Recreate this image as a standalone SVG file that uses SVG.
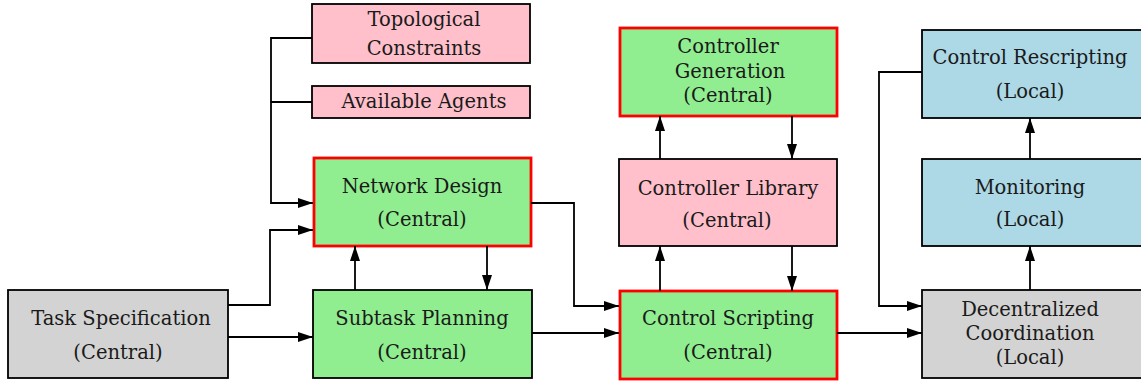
<svg xmlns="http://www.w3.org/2000/svg" width="1141" height="381" viewBox="0 0 1141 381">
<style>
.t{font-family:"DejaVu Serif",serif;font-size:19.5px;fill:#1a1a1a;text-anchor:middle}
.b{stroke:#000;stroke-width:1.8}
.r{stroke:#ff0000;stroke-width:2.8}
.gray{fill:#d3d3d3}.green{fill:#90ee90}.pink{fill:#ffc0cb}.blue{fill:#add8e6}
.c{fill:none;stroke:#000;stroke-width:1.8;marker-end:url(#ah)}
.l{fill:none;stroke:#000;stroke-width:1.8}
</style>
<defs>
<marker id="ah" viewBox="0 0 15 10" refX="15" refY="5" markerWidth="15" markerHeight="10" markerUnits="userSpaceOnUse" orient="auto">
<path d="M0,0 L15,5 L0,10 z" fill="#000"/>
</marker>
</defs>
<g class="t">
<g id="task-spec"><rect class="gray b" x="8" y="290" width="220" height="88"/><text x="121" y="325">Task Specification</text><text x="118" y="359">(Central)</text></g>
<g id="subtask-planning"><rect class="green b" x="313" y="290" width="219" height="88"/><text x="422" y="325">Subtask Planning</text><text x="422" y="359">(Central)</text></g>
<g id="network-design"><rect class="green r" x="314" y="158" width="217" height="88"/><text x="422" y="193">Network Design</text><text x="422" y="226">(Central)</text></g>
<g id="topological-constraints"><rect class="pink b" x="312" y="4" width="218" height="59"/><text x="424" y="26">Topological</text><text x="424" y="55">Constraints</text></g>
<g id="available-agents"><rect class="pink b" x="312" y="86" width="218" height="32"/><text x="424" y="108">Available Agents</text></g>
<g id="controller-generation"><rect class="green r" x="620" y="28" width="217" height="88"/><text x="728" y="53">Controller</text><text x="730" y="78">Generation</text><text x="728" y="102">(Central)</text></g>
<g id="controller-library"><rect class="pink b" x="619" y="159" width="218" height="87"/><text x="728" y="195">Controller Library</text><text x="727" y="227">(Central)</text></g>
<g id="control-scripting"><rect class="green r" x="620" y="291" width="217" height="88"/><text x="728" y="325">Control Scripting</text><text x="728" y="359">(Central)</text></g>
<g id="control-rescripting"><rect class="blue b" x="922" y="30" width="222" height="88"/><text x="1030" y="64">Control Rescripting</text><text x="1030" y="98">(Local)</text></g>
<g id="monitoring"><rect class="blue b" x="922" y="159" width="222" height="87"/><text x="1030" y="194">Monitoring</text><text x="1030" y="226">(Local)</text></g>
<g id="decentralized-coordination"><rect class="gray b" x="922" y="290" width="222" height="88"/><text x="1030" y="316">Decentralized</text><text x="1030" y="340">Coordination</text><text x="1030" y="364">(Local)</text></g>
</g>
<g id="connectors">
<path class="l" d="M312,38 H271 V102"/>
<path class="c" d="M312,102 H271 V203 H313"/>
<path class="c" d="M228,305 H270 V230 H313"/>
<path class="c" d="M228,337 H313"/>
<path class="c" d="M355,290 V246"/>
<path class="c" d="M487,246 V290"/>
<path class="c" d="M531,203 H574 V306 H619"/>
<path class="c" d="M532,333 H619"/>
<path class="c" d="M660,291 V246"/>
<path class="c" d="M792,246 V291"/>
<path class="c" d="M660,159 V116"/>
<path class="c" d="M792,116 V159"/>
<path class="c" d="M837,333 H922"/>
<path class="c" d="M922,72 H879 V306 H922"/>
<path class="c" d="M1030,290 V246"/>
<path class="c" d="M1030,159 V118"/>
</g>
</svg>
